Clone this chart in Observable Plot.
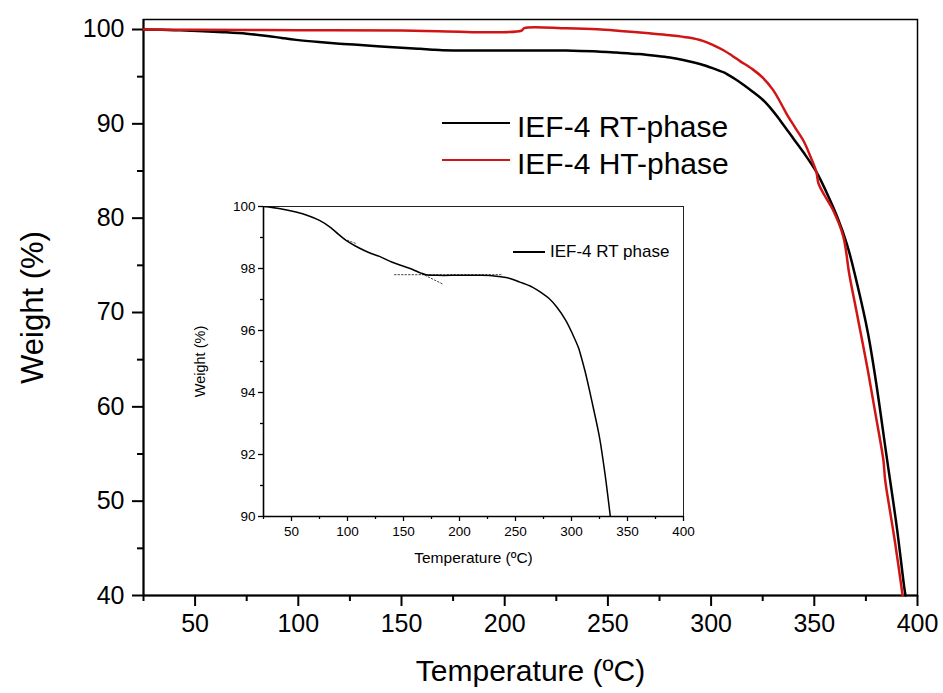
<!DOCTYPE html>
<html><head><meta charset="utf-8">
<script src="https://cdn.jsdelivr.net/npm/d3@7"></script>
<script src="https://cdn.jsdelivr.net/npm/@observablehq/plot@0.6"></script>
<style>
body{margin:0;background:#fff;font-family:"Liberation Sans",Arial,sans-serif;}
#wrap{position:relative;width:943px;height:693px;overflow:hidden;}
#wrap svg{position:absolute;left:0;top:0;}
.ln{position:absolute;}
.tx{position:absolute;white-space:nowrap;line-height:1;color:#000;}
</style></head><body><div id="wrap"></div>
<script>
// ---- data ----
const rtTemp   = [25,40,54,65,75,85,92,99,110,120,128.6,140,150,158,165,170,180,200,220,233,245,254,265,273,280,287,295,301,306.5,307.5,312,316,320,325,330,334,340,345,351,356,361,366,371,376,380,385,390,393.5,394.2];
const rtWeight = [100,99.93,99.82,99.7,99.55,99.32,99.1,98.9,98.67,98.5,98.39,98.2,98.07,97.97,97.86,97.8,97.78,97.78,97.78,97.75,97.68,97.56,97.4,97.22,97.03,96.75,96.32,95.88,95.42,95.3,94.7,94.08,93.42,92.55,91.35,90.2,88.4,86.9,84.9,82.7,80.2,77.1,72.8,67.8,62.5,54.8,47.2,41,40];
const htTemp   = [25,50,100,150,208,209.5,230,245,256,270,280,289,296,301,306,310,314,320,325,330,333,337,341,345,348,351,352,355,359,364,367,371,376,380,383.5,384.2,385,389,392.8];
const htWeight = [100,99.97,99.93,99.9,99.87,100.15,100.12,100.02,99.85,99.6,99.4,99.15,98.8,98.35,97.8,97.25,96.65,95.8,94.9,93.6,92.5,90.9,89.5,88.1,86.6,84.9,83.7,82.4,80.9,78.1,74,69.5,63.8,58.8,54.3,52.5,51.2,45.8,40];
// dotted tangent lines in the inset
const tanA_T = [97, 108],  tanA_W = [98.95, 98.8];
const tanB_T = [142, 238], tanB_W = [97.8, 97.8];
const tanC_T = [158, 186], tanC_W = [97.98, 97.48];
// ticks
const xMajor = [50,100,150,200,250,300,350,400];
const xMinor = [25,75,125,175,225,275,325,375];
const yMajor = [40,50,60,70,80,90,100];
const yMinor = [45,55,65,75,85,95];
const insetYMajor = [90,92,94,96,98,100];
const insetYMinor = [91,93,95,97,99];
// texts
const seriesNames = ["IEF-4 RT-phase", "IEF-4 HT-phase"];
const insetName = "IEF-4 RT phase";
const xTitle = "Temperature (ºC)";
const yTitle = "Weight (%)";
const RED = "#d01515";

const pts = (T, W) => T.map((t, i) => ({t, w: W[i]}));
const rt = pts(rtTemp, rtWeight), ht = pts(htTemp, htWeight);
const font = "Liberation Sans, Arial, sans-serif";
const blank = () => "";

const main = Plot.plot({
  width: 943, height: 693,
  marginLeft: 143, marginRight: 26, marginTop: 19, marginBottom: 98,
  style: {fontFamily: font, fontSize: "25px", color: "#000", background: "transparent", overflow: "visible"},
  x: {domain: [25, 400]},
  y: {domain: [40, 101.06]},
  marks: [
    Plot.frame({stroke: "#000", strokeWidth: 1.5}),
    Plot.ruleX([25], {stroke: "#000", strokeWidth: 2}),
    Plot.ruleY([40], {stroke: "#000", strokeWidth: 2}),
    Plot.axisX({ticks: xMajor, tickSize: 11, tickPadding: 8, label: null, strokeWidth: 2}),
    Plot.axisX({ticks: xMinor, tickSize: 6, tickFormat: blank, label: null, strokeWidth: 2}),
    Plot.axisY({ticks: yMajor, tickSize: 11, tickPadding: 8, label: null, strokeWidth: 2}),
    Plot.axisY({ticks: yMinor, tickSize: 6, tickFormat: blank, label: null, strokeWidth: 2}),
    Plot.line(rt, {x: "t", y: "w", stroke: "#000", strokeWidth: 2.5, curve: "catmull-rom"}),
    Plot.line(ht, {x: "t", y: "w", stroke: RED, strokeWidth: 2.5, curve: "catmull-rom"}),
    Plot.text([yTitle], {text: d => d, frameAnchor: "left", dx: -110, rotate: -90, textAnchor: "middle", lineAnchor: "middle", fontSize: 31}),
    Plot.text([xTitle], {text: d => d, frameAnchor: "bottom", dy: 76, textAnchor: "middle", lineAnchor: "middle", fontSize: 30})
  ]
});

const inset = Plot.plot({
  width: 943, height: 693,
  marginLeft: 263, marginRight: 260, marginTop: 206, marginBottom: 177,
  style: {fontFamily: font, fontSize: "13.5px", color: "#000", background: "transparent", overflow: "visible"},
  x: {domain: [25, 400]},
  y: {domain: [90, 100]},
  marks: [
    Plot.frame({stroke: "#222", strokeWidth: 1}),
    Plot.ruleX([25], {stroke: "#000", strokeWidth: 1.6}),
    Plot.ruleY([90], {stroke: "#000", strokeWidth: 1.6}),
    Plot.axisX({ticks: xMajor, tickSize: 5, tickPadding: 5, label: null, strokeWidth: 1.3}),
    Plot.axisX({ticks: xMinor, tickSize: 3, tickFormat: blank, label: null, strokeWidth: 1.3}),
    Plot.axisY({ticks: insetYMajor, tickSize: 5, tickPadding: 3, label: null, strokeWidth: 1.3}),
    Plot.axisY({ticks: insetYMinor, tickSize: 3, tickFormat: blank, label: null, strokeWidth: 1.3}),
    Plot.line(pts(tanA_T, tanA_W), {x: "t", y: "w", stroke: "#444", strokeWidth: 1, strokeDasharray: "1.5,2"}),
    Plot.line(pts(tanB_T, tanB_W), {x: "t", y: "w", stroke: "#444", strokeWidth: 1, strokeDasharray: "1.5,2"}),
    Plot.line(pts(tanC_T, tanC_W), {x: "t", y: "w", stroke: "#444", strokeWidth: 1, strokeDasharray: "1.5,2"}),
    Plot.line(rt, {x: "t", y: "w", stroke: "#000", strokeWidth: 1.5, curve: "catmull-rom", clip: true}),
    Plot.text([yTitle], {text: d => d, frameAnchor: "left", dx: -63, rotate: -90, textAnchor: "middle", lineAnchor: "middle", fontSize: 14.5}),
    Plot.text([xTitle], {text: d => d, frameAnchor: "bottom", dy: 42, textAnchor: "middle", lineAnchor: "middle", fontSize: 15.5})
  ]
});

const wrap = document.getElementById("wrap");
wrap.appendChild(main);
wrap.appendChild(inset);

function addLine(x, y, w, h, color) {
  const d = document.createElement("div");
  d.className = "ln";
  Object.assign(d.style, {left: x + "px", top: (y - h / 2) + "px", width: w + "px", height: h + "px", background: color});
  wrap.appendChild(d);
}
function addText(x, top, size, txt) {
  const d = document.createElement("div");
  d.className = "tx";
  Object.assign(d.style, {left: x + "px", top: top + "px", fontSize: size + "px"});
  d.textContent = txt;
  wrap.appendChild(d);
}
addLine(442, 123, 68, 2.5, "#000");
addText(517, 112, 30, seriesNames[0]);
addLine(442, 160, 68, 2.5, RED);
addText(517, 149, 30, seriesNames[1]);
addLine(513, 252, 32, 1.5, "#000");
addText(550, 243, 17, insetName);
</script></body></html>
